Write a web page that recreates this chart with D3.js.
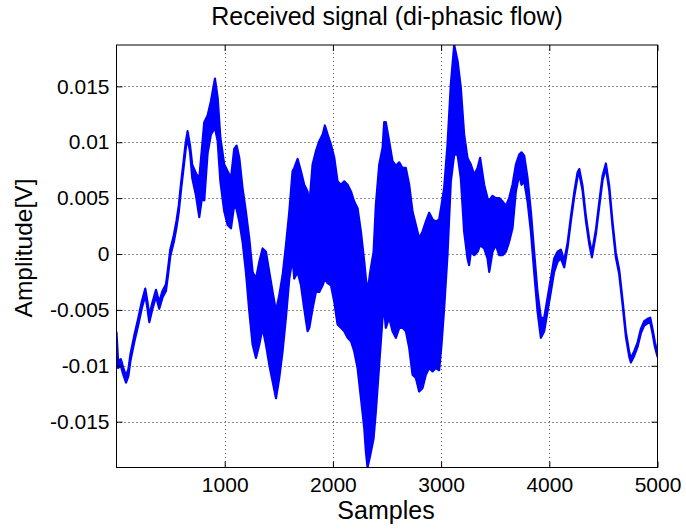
<!DOCTYPE html>
<html>
<head>
<meta charset="utf-8">
<script src="https://cdn.jsdelivr.net/npm/d3@7"></script>
<style>
  html, body { margin: 0; padding: 0; background: #fff; }
  svg { display: block; font-family: "Liberation Sans", Arial, Helvetica, sans-serif; }
</style>
</head>
<body>
<svg id="chart" width="686" height="529"></svg>
<script>
// ---- data: sample index, upper and lower envelope of the signal [V]
const samples = [
  0, 15, 40, 60, 88, 110, 130, 164, 200, 235, 266, 285, 303, 330, 365, 395, 425, 457, 475, 497,
  530, 555, 575, 596, 620, 640, 657, 680, 700, 735, 765, 790,
  811, 842, 873, 910, 935, 960, 996, 1027, 1058, 1088, 1110, 1135, 1165, 1196, 1227, 1258, 1289, 1320,
  1350, 1381, 1412, 1443, 1474, 1504, 1535, 1566, 1597, 1627,
  1643, 1674, 1705, 1735, 1766, 1782, 1812, 1843, 1874, 1905, 1926, 1951, 1982, 2013, 2043, 2074,
  2105, 2136, 2167, 2197, 2228, 2259, 2290, 2305, 2320, 2345, 2376, 2397, 2428, 2459,
  2474, 2489, 2520, 2551, 2582, 2613, 2643, 2674, 2705, 2736, 2767, 2797, 2828, 2859, 2890, 2921,
  2951, 2982, 3004, 3028, 3059, 3090, 3121, 3152, 3182, 3213, 3244, 3259, 3275,
  3306, 3337, 3361, 3398, 3429, 3445, 3475, 3506, 3537, 3568, 3599, 3629, 3660, 3691, 3722, 3743,
  3768, 3799, 3830, 3860, 3891, 3922, 3953, 3984, 4014, 4045, 4076, 4107,
  4138, 4169, 4200, 4230, 4261, 4277, 4307, 4338, 4369, 4394, 4431, 4461, 4492, 4523, 4554, 4585,
  4615, 4646, 4677, 4708, 4739, 4754, 4785, 4816, 4846, 4877, 4908, 4933, 4954, 4976, 5000
];
const upper = [
  -0.0070, -0.0096, -0.0094, -0.0101, -0.0109, -0.0103, -0.0089, -0.0073, -0.0058, -0.0042, -0.0031, -0.0042, -0.0055, -0.0044, -0.0032, -0.0043, -0.0033, -0.0027, -0.0014, 0.0004,
  0.0017, 0.0030, 0.0043, 0.0063, 0.0083, 0.0100, 0.0110, 0.0097, 0.0080, 0.0072, 0.0068, 0.0095,
  0.0118, 0.0124, 0.0137, 0.0157, 0.0140, 0.0104, 0.0080, 0.0074, 0.0068, 0.0094, 0.0097, 0.0086, 0.0059, 0.0038, 0.0014, -0.0016, -0.0022, -0.0007,
  0.0005, 0.0002, -0.0016, -0.0034, -0.0051, -0.0037, -0.0019, 0.0008, 0.0038, 0.0074,
  0.0077, 0.0085, 0.0074, 0.0062, 0.0056, 0.0044, 0.0080, 0.0092, 0.0101, 0.0107, 0.0115, 0.0107, 0.0098, 0.0086, 0.0065, 0.0062,
  0.0065, 0.0062, 0.0056, 0.0047, 0.0041, 0.0020, -0.0007, -0.0022, -0.0034, -0.0016, 0.0002, 0.0044, 0.0080, 0.0095,
  0.0118, 0.0118, 0.0101, 0.0083, 0.0079, 0.0082, 0.0077, 0.0077, 0.0062, 0.0038, 0.0026, 0.0014, 0.0020, 0.0029, 0.0037, 0.0031,
  0.0029, 0.0031, 0.0044, 0.0059, 0.0098, 0.0152, 0.0187, 0.0173, 0.0149, 0.0107, 0.0086, 0.0083, 0.0080,
  0.0071, 0.0077, 0.0086, 0.0062, 0.0050, 0.0048, 0.0052, 0.0050, 0.0050, 0.0047, 0.0043, 0.0050, 0.0062, 0.0080, 0.0089, 0.0091,
  0.0088, 0.0068, 0.0038, 0.0002, -0.0034, -0.0057, -0.0057, -0.0039, -0.0022, -0.0004, 0.0002, 0.0004,
  -0.0006, 0.0010, 0.0034, 0.0055, 0.0073, 0.0076, 0.0061, 0.0034, 0.0013, 0.0001, 0.0022, 0.0046, 0.0070, 0.0081, 0.0061, 0.0028,
  0.0001, -0.0014, -0.0041, -0.0070, -0.0088, -0.0093, -0.0087, -0.0079, -0.0067, -0.0060, -0.0058, -0.0057, -0.0067, -0.0079, -0.0088
];
const lower = [
  -0.0076, -0.0102, -0.0100, -0.0107, -0.0115, -0.0109, -0.0095, -0.0079, -0.0064, -0.0048, -0.0037, -0.0048, -0.0061, -0.0050, -0.0038, -0.0049, -0.0039, -0.0033, -0.0020, -0.0002,
  0.0011, 0.0024, 0.0037, 0.0057, 0.0077, 0.0094, 0.0104, 0.0091, 0.0068, 0.0052, 0.0033, 0.0050,
  0.0048, 0.0090, 0.0107, 0.0113, 0.0101, 0.0065, 0.0038, 0.0026, 0.0023, 0.0044, 0.0040, 0.0029, 0.0011, -0.0016, -0.0051, -0.0081, -0.0093, -0.0081,
  -0.0066, -0.0081, -0.0099, -0.0114, -0.0129, -0.0111, -0.0087, -0.0057, -0.0022, -0.0004,
  -0.0022, -0.0016, -0.0028, -0.0049, -0.0069, -0.0066, -0.0049, -0.0034, -0.0034, -0.0028, -0.0022, -0.0026, -0.0028, -0.0043, -0.0063, -0.0066,
  -0.0069, -0.0075, -0.0078, -0.0087, -0.0102, -0.0129, -0.0156, -0.0177, -0.0191, -0.0180, -0.0165, -0.0141, -0.0099, -0.0057,
  -0.0049, -0.0066, -0.0057, -0.0069, -0.0075, -0.0066, -0.0066, -0.0069, -0.0084, -0.0108, -0.0111, -0.0123, -0.0120, -0.0108, -0.0102, -0.0105,
  -0.0102, -0.0104, -0.0081, -0.0049, -0.0001, 0.0065, 0.0089, 0.0089, 0.0068, 0.0020, -0.0004, -0.0010, 0.0002,
  -0.0001, 0.0002, 0.0008, 0.0005, -0.0004, -0.0016, 0.0002, 0.0008, -0.0001, -0.0001, 0.0002, 0.0011, 0.0023, 0.0056, 0.0071, 0.0062,
  0.0065, 0.0047, 0.0020, -0.0016, -0.0051, -0.0075, -0.0069, -0.0051, -0.0034, -0.0016, -0.0007, -0.0004,
  -0.0012, 0.0006, 0.0030, 0.0051, 0.0069, 0.0072, 0.0057, 0.0030, 0.0009, -0.0003, 0.0018, 0.0042, 0.0066, 0.0077, 0.0057, 0.0024,
  -0.0003, -0.0018, -0.0045, -0.0074, -0.0092, -0.0097, -0.0091, -0.0083, -0.0071, -0.0064, -0.0062, -0.0061, -0.0071, -0.0083, -0.0092
];
const xTicks = [1000, 2000, 3000, 4000, 5000];
const yTicks = [-0.015, -0.01, -0.005, 0, 0.005, 0.01, 0.015];
const yTickLabels = ["-0.015", "-0.01", "-0.005", "0", "0.005", "0.01", "0.015"];
const titleText = "Received signal (di-phasic flow)";
const xLabelText = "Samples";
const yLabelText = "Amplitude[V]";

// ---- layout
const L = 116.5, R = 657.5, T = 45, B = 467.5;
const svg = d3.select("#chart");
const x = d3.scaleLinear().domain([0, 5000]).range([L, R]);
const y = d3.scaleLinear().domain([-0.0191, 0.0187]).range([B, T]);

// grid
const grid = svg.append("g");
grid.selectAll("line.gx").data(xTicks.filter(d => d < 5000)).join("line")
  .attr("x1", d => Math.round(x(d)) + 0.5).attr("x2", d => Math.round(x(d)) + 0.5)
  .attr("y1", T).attr("y2", B)
  .attr("stroke", "#555").attr("stroke-width", 1).attr("stroke-dasharray", "1,3");
grid.selectAll("line.gy").data(yTicks).join("line")
  .attr("x1", L).attr("x2", R)
  .attr("y1", d => Math.round(y(d)) + 0.5).attr("y2", d => Math.round(y(d)) + 0.5)
  .attr("stroke", "#222").attr("stroke-width", 1).attr("stroke-dasharray", "1,3");

// signal band
const idx = d3.range(samples.length);
const area = d3.area()
  .x(i => x(samples[i]))
  .y0(i => y(lower[i]))
  .y1(i => y(upper[i]));
svg.append("clipPath").attr("id", "clip").append("rect")
  .attr("x", L).attr("y", T).attr("width", R - L).attr("height", B - T);
svg.append("path").datum(idx).attr("d", area)
  .attr("clip-path", "url(#clip)")
  .attr("fill", "#0000ff").attr("stroke", "#0000ff").attr("stroke-width", 2.2)
  .attr("stroke-linejoin", "round");

// axes
const fmtY = d => yTickLabels[yTicks.indexOf(d)];
const ax = svg.append("g").attr("transform", `translate(0,${B})`)
  .call(d3.axisBottom(x).tickValues(xTicks).tickSize(-6).tickPadding(10).tickFormat(d3.format("d")));
const ay = svg.append("g").attr("transform", `translate(${L},0)`)
  .call(d3.axisLeft(y).tickValues(yTicks).tickSize(-6).tickPadding(7).tickFormat(fmtY));
const axT = svg.append("g").attr("transform", `translate(0,${T})`)
  .call(d3.axisTop(x).tickValues(xTicks).tickSize(-6).tickFormat(""));
const ayR = svg.append("g").attr("transform", `translate(${R},0)`)
  .call(d3.axisRight(y).tickValues(yTicks).tickSize(-6).tickFormat(""));
[ax, ay, axT, ayR].forEach(g => {
  g.select(".domain").remove();
  g.selectAll("line").attr("stroke", "#000");
  g.selectAll("text").attr("fill", "#000").attr("font-size", 21)
    .attr("font-family", "'Liberation Sans', Arial, sans-serif");
});
svg.append("rect").attr("x", L).attr("y", T).attr("width", R - L).attr("height", B - T)
  .attr("fill", "none").attr("stroke", "#000").attr("stroke-width", 1);

// texts
svg.append("text").attr("x", 387).attr("y", 25).attr("text-anchor", "middle")
  .attr("font-size", 25).text(titleText);
svg.append("text").attr("x", 386).attr("y", 519).attr("text-anchor", "middle")
  .attr("font-size", 25).text(xLabelText);
svg.append("text").attr("transform", `translate(32,248) rotate(-90)`)
  .attr("text-anchor", "middle").attr("font-size", 24.5).text(yLabelText);
</script>
</body>
</html>
